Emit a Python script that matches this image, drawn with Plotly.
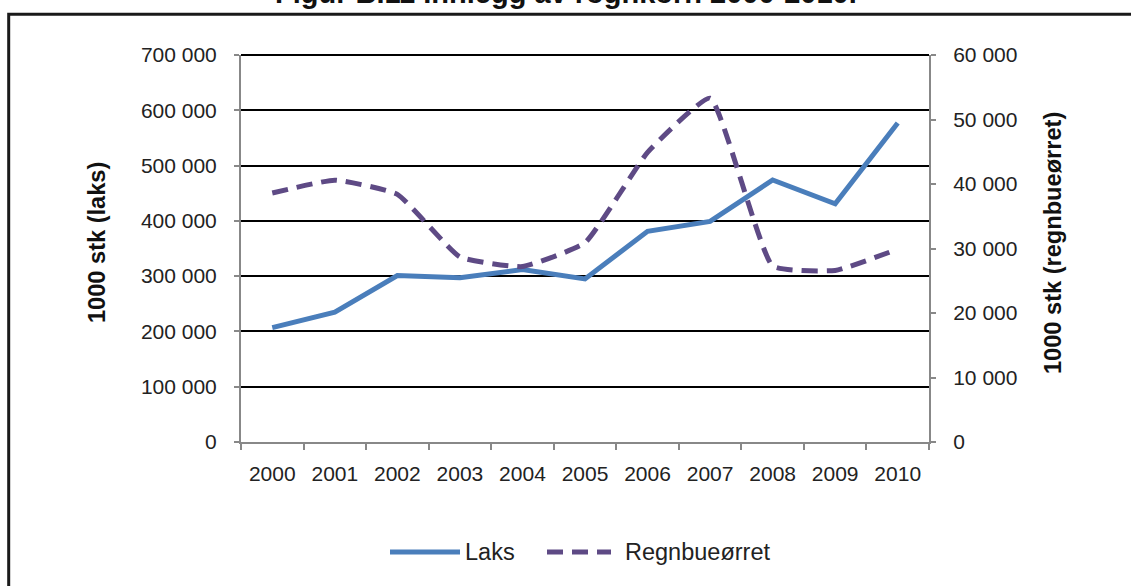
import plotly.graph_objects as go

years = ["2000", "2001", "2002", "2003", "2004", "2005", "2006", "2007", "2008", "2009", "2010"]
laks = [207000, 235000, 301000, 297000, 312000, 295000, 381000, 399000, 474000, 431000, 577000]
regnbue = [38600, 40600, 38400, 28700, 27200, 30900, 44900, 53300, 27300, 26600, 29900]

left_ticks = [0, 100000, 200000, 300000, 400000, 500000, 600000, 700000]
left_labels = ["0", "100 000", "200 000", "300 000", "400 000", "500 000", "600 000", "700 000"]
right_ticks = [0, 10000, 20000, 30000, 40000, 50000, 60000]
right_labels = ["0", "10 000", "20 000", "30 000", "40 000", "50 000", "60 000"]

title_text = "Figur B.11 Innlegg av rognkorn 2000-2010."
left_title = "1000 stk (laks)"
right_title = "1000 stk (regnbueørret)"
series_names = ["Laks", "Regnbueørret"]

W, H = 1131, 586
L, R, T, B = 241, 929, 55, 442
pw, ph = R - L, B - T

BLUE = "#4a7ebb"
PURPLE = "#5e4a85"
DASH = "16px,9px"


def px(x):
    return (x - L) / pw


def py(y):
    return (B - y) / ph


fig = go.Figure()
fig.add_trace(go.Scatter(
    x=years, y=laks, name=series_names[0], mode="lines",
    line=dict(color=BLUE, width=5),
    yaxis="y",
))
fig.add_trace(go.Scatter(
    x=years, y=regnbue, name=series_names[1], mode="lines",
    line=dict(color=PURPLE, width=5, dash=DASH, shape="spline", smoothing=0.4),
    yaxis="y2",
))

tickfont = dict(size=21, color="#222222")

shapes = [
    # top gridline at 700 000
    dict(type="line", xref="paper", yref="paper", x0=0, x1=1, y0=1, y1=1,
         line=dict(color="#000000", width=2), layer="below"),
    # outer frame
    dict(type="rect", xref="paper", yref="paper",
         x0=px(8.7), x1=px(1250), y0=py(750), y1=py(14.2),
         line=dict(color="#1a1a1a", width=3), fillcolor="rgba(0,0,0,0)", layer="above"),
    # legend samples
    dict(type="line", xref="paper", yref="paper", x0=px(390), x1=px(460), y0=py(552), y1=py(552),
         line=dict(color=BLUE, width=5)),
    dict(type="line", xref="paper", yref="paper", x0=px(547), x1=px(611), y0=py(552), y1=py(552),
         line=dict(color=PURPLE, width=5, dash=DASH)),
]

annotations = [
    dict(text="<b>" + title_text + "</b>", xref="paper", yref="paper",
         x=px(566), y=py(11.5), xanchor="center", yanchor="bottom", showarrow=False,
         font=dict(family="Liberation Sans Narrow, Arial Narrow, Liberation Sans, sans-serif",
                   size=29, color="#111111")),
    dict(text="<b>" + left_title + "</b>", xref="paper", yref="paper",
         x=px(97), y=py(243), xanchor="center", yanchor="middle", showarrow=False,
         textangle=-90, font=dict(size=23.6, color="#111111")),
    dict(text="<b>" + right_title + "</b>", xref="paper", yref="paper",
         x=px(1053), y=py(243), xanchor="center", yanchor="middle", showarrow=False,
         textangle=-90, font=dict(size=23.6, color="#111111")),
    dict(text=series_names[0], xref="paper", yref="paper",
         x=px(463), y=py(552), xanchor="left", yanchor="middle", showarrow=False,
         font=dict(size=23.5, color="#222222")),
    dict(text=series_names[1], xref="paper", yref="paper",
         x=px(623), y=py(552), xanchor="left", yanchor="middle", showarrow=False,
         font=dict(size=23.5, color="#222222")),
]

fig.update_layout(
    width=W, height=H,
    margin=dict(l=L, r=W - R, t=T, b=H - B, autoexpand=False),
    paper_bgcolor="white", plot_bgcolor="white",
    font=dict(family="Liberation Sans, Arial, sans-serif", size=21, color="#222222"),
    showlegend=False,
    xaxis=dict(
        type="category", range=[-0.5, 10.5], showline=True, linecolor="#888888", linewidth=2,
        ticks="outside", tickson="boundaries", ticklen=6, tickcolor="#888888", tickwidth=1.5,
        showgrid=False, zeroline=False, tickfont=tickfont, ticklabelstandoff=12,
    ),
    yaxis=dict(
        range=[0, 700000], tickvals=left_ticks, ticktext=left_labels,
        showline=True, linecolor="#888888", linewidth=2,
        ticks="outside", ticklen=5, tickcolor="#888888", tickwidth=1.5,
        showgrid=True, gridcolor="#000000", gridwidth=2, zeroline=False,
        tickfont=tickfont, ticklabelstandoff=13, automargin=False,
    ),
    yaxis2=dict(
        range=[0, 60000], tickvals=right_ticks, ticktext=right_labels,
        overlaying="y", side="right",
        showline=True, linecolor="#888888", linewidth=2,
        ticks="outside", ticklen=5, tickcolor="#888888", tickwidth=1.5,
        showgrid=False, zeroline=False,
        tickfont=tickfont, ticklabelstandoff=13, automargin=False,
    ),
    shapes=shapes,
    annotations=annotations,
)

fig.write_html(
    "out.html",
    config={"displayModeBar": False},
    post_script="document.body.style.margin='0';document.body.style.overflow='hidden';",
)
